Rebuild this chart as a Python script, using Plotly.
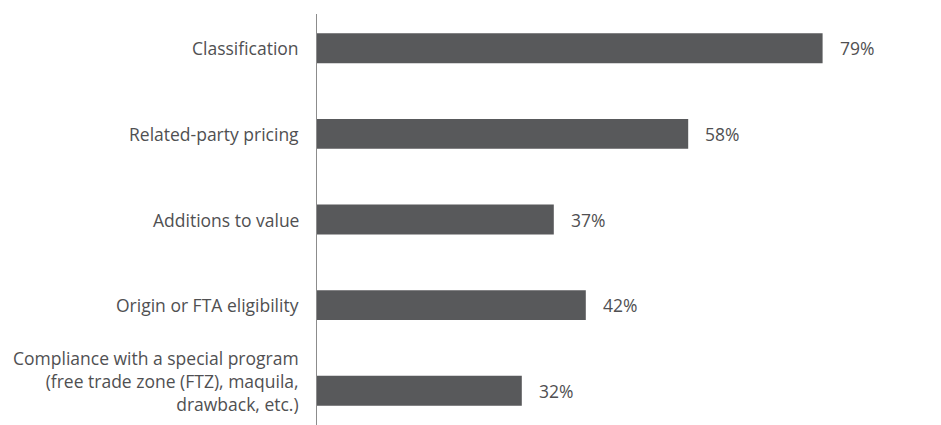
import plotly.graph_objects as go

categories = [
    "Classification",
    "Related-party pricing",
    "Additions to value",
    "Origin or FTA eligibility",
    "Compliance with a special program<br>(free trade zone (FTZ), maquila,<br>drawback, etc.)",
]
values = [79, 58, 37, 42, 32]
value_labels = ["79%", "58%", "37%", "42%", "32%"]

positions = list(range(len(categories)))
bar_color = "#58595b"
text_color = "#505052"
font_family = "Open Sans, Lato, sans-serif"
font_size = 17.5

fig = go.Figure(
    go.Bar(
        x=values,
        y=positions,
        orientation="h",
        width=0.35,
        marker=dict(color=bar_color, line=dict(width=0)),
        hoverinfo="skip",
    )
)

# category names, right-aligned against the axis line
for name, p in zip(categories, positions):
    n_lines = name.count("<br>") + 1
    fig.add_annotation(
        xref="paper", x=0, y=p, text=name, showarrow=False,
        xanchor="right", yanchor="middle", align="right",
        xshift=-16, yshift=5 * (n_lines - 1),
        font=dict(family=font_family, size=font_size, color=text_color),
    )

# value labels just past the end of each bar
for v, p, lab in zip(values, positions, value_labels):
    fig.add_annotation(
        x=v, y=p, text=lab, showarrow=False,
        xanchor="left", yanchor="middle", xshift=15,
        font=dict(family=font_family, size=font_size, color=text_color),
    )

fig.update_layout(
    width=941, height=425,
    margin=dict(l=317, r=48, t=14, b=0),
    paper_bgcolor="white", plot_bgcolor="white",
    showlegend=False,
    font=dict(family=font_family, size=font_size, color=text_color),
)
fig.update_xaxes(range=[0, 90], visible=False, showgrid=False, zeroline=False)
fig.update_yaxes(
    range=[4.4, -0.4],
    showticklabels=False,
    showgrid=False, zeroline=False,
    showline=True, linecolor="#8c8c8c", linewidth=1,
    ticks="",
)

fig.write_html("out.html")
